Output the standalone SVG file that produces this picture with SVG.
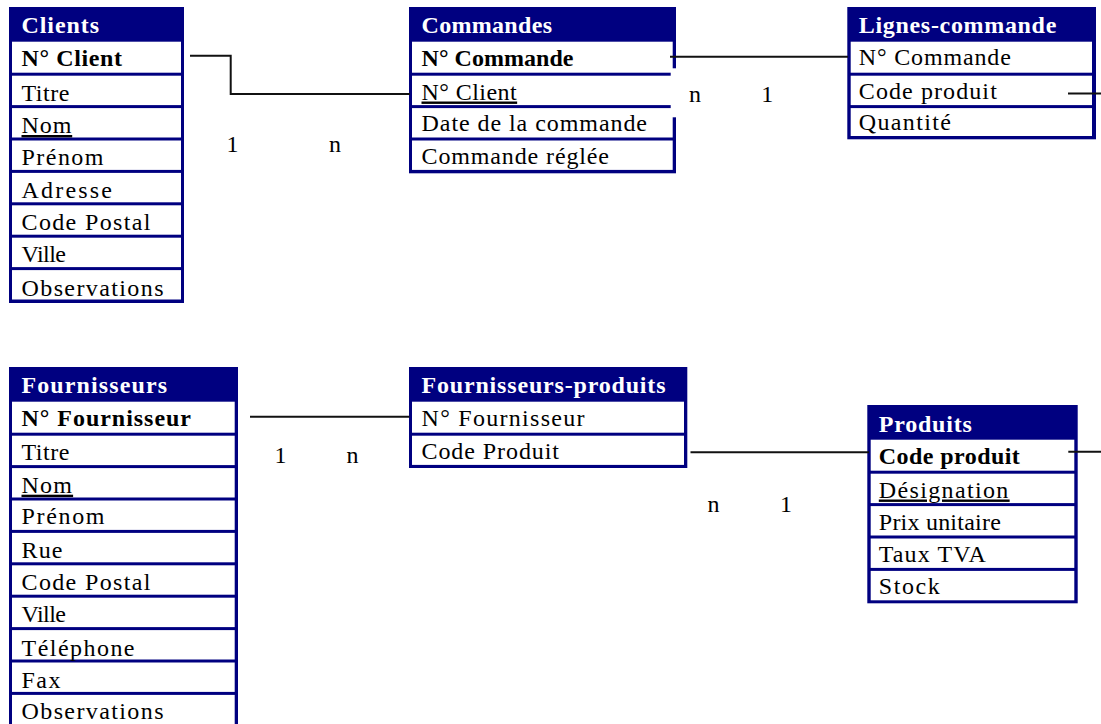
<svg xmlns="http://www.w3.org/2000/svg" width="1101" height="724" viewBox="0 0 1101 724">
<style>
.nav{fill:#000080}
.cell{fill:#ffffff}
.t{font-family:"Liberation Serif","Times New Roman",serif;font-size:24px;fill:#000000}
.h{font-weight:bold;fill:#ffffff}
.b{font-weight:bold}
.u{text-decoration:underline;text-decoration-thickness:2px}
.conn{fill:none;stroke:#111111;stroke-width:2}
</style>
<rect x="0" y="0" width="1101" height="724" fill="#ffffff"/>

<g id="clients">
<rect class="nav" x="9" y="7" width="175" height="296"/>
<rect class="cell" x="12" y="41.7" width="169" height="31"/>
<rect class="cell" x="12" y="75.7" width="169" height="29.4"/>
<rect class="cell" x="12" y="108.1" width="169" height="29.4"/>
<rect class="cell" x="12" y="140.5" width="169" height="29.4"/>
<rect class="cell" x="12" y="172.9" width="169" height="29.4"/>
<rect class="cell" x="12" y="205.3" width="169" height="29.4"/>
<rect class="cell" x="12" y="237.7" width="169" height="29.4"/>
<rect class="cell" x="12" y="270.1" width="169" height="29.4"/>
<text class="t h" x="21.5" y="33.3" textLength="77.5">Clients</text>
<text class="t b" x="21.5" y="65.7" textLength="100.5">N° Client</text>
<text class="t" x="21.5" y="100.5" textLength="48">Titre</text>
<text class="t u" x="21.5" y="133" letter-spacing="0.9">Nom</text>
<text class="t" x="21.5" y="164.5" textLength="82">Prénom</text>
<text class="t" x="21.5" y="197.5" textLength="90.5">Adresse</text>
<text class="t" x="21.5" y="230" textLength="129">Code Postal</text>
<text class="t" x="21.5" y="262" textLength="44.5">Ville</text>
<text class="t" x="21.5" y="295.5" textLength="142">Observations</text>
</g>

<g id="commandes">
<rect class="nav" x="409" y="7" width="267" height="166.3"/>
<rect class="cell" x="412" y="41.7" width="260.7" height="31"/>
<rect class="cell" x="412" y="75.7" width="260.7" height="29.4"/>
<rect class="cell" x="412" y="108.1" width="260.7" height="29.4"/>
<rect class="cell" x="412" y="140.5" width="260.7" height="29.4"/>
<rect class="cell" x="670.7" y="68.3" width="6.5" height="49"/>
<text class="t h" x="421.5" y="33.3" textLength="130.5">Commandes</text>
<text class="t b" x="421.5" y="65.5" textLength="152">N° Commande</text>
<text class="t u" x="421.5" y="99.5" letter-spacing="0.45">N° Client</text>
<text class="t" x="421.5" y="131" textLength="225.5">Date de la commande</text>
<text class="t" x="421.5" y="163.5" textLength="187.5">Commande réglée</text>
</g>

<g id="lignes-commande">
<rect class="nav" x="847.3" y="7" width="248.7" height="132.3"/>
<rect class="cell" x="850.7" y="41.7" width="241.3" height="31"/>
<rect class="cell" x="850.7" y="75.7" width="241.3" height="29.4"/>
<rect class="cell" x="850.7" y="108.1" width="241.3" height="27.9"/>
<text class="t h" x="858.8" y="33.3" textLength="197.5">Lignes-commande</text>
<text class="t" x="858.8" y="65.3" textLength="152">N° Commande</text>
<text class="t" x="858.8" y="99.3" textLength="138">Code produit</text>
<text class="t" x="858.8" y="130" textLength="92">Quantité</text>
</g>

<g id="fournisseurs">
<rect class="nav" x="9" y="367" width="229" height="370"/>
<rect class="cell" x="12" y="401.7" width="222.7" height="31"/>
<rect class="cell" x="12" y="435.7" width="222.7" height="29.4"/>
<rect class="cell" x="12" y="468.1" width="222.7" height="29.4"/>
<rect class="cell" x="12" y="500.5" width="222.7" height="29.4"/>
<rect class="cell" x="12" y="532.9" width="222.7" height="29.4"/>
<rect class="cell" x="12" y="565.3" width="222.7" height="29.4"/>
<rect class="cell" x="12" y="597.7" width="222.7" height="29.4"/>
<rect class="cell" x="12" y="630.1" width="222.7" height="29.4"/>
<rect class="cell" x="12" y="662.5" width="222.7" height="29.4"/>
<rect class="cell" x="12" y="694.9" width="222.7" height="40"/>
<text class="t h" x="21.5" y="393.3" textLength="145.5">Fournisseurs</text>
<text class="t b" x="21.5" y="426" textLength="169.5">N° Fournisseur</text>
<text class="t" x="21.5" y="460.3" textLength="48">Titre</text>
<text class="t u" x="21.5" y="492.7" letter-spacing="1.2">Nom</text>
<text class="t" x="21.5" y="524.3" textLength="83">Prénom</text>
<text class="t" x="21.5" y="557.5" textLength="41">Rue</text>
<text class="t" x="21.5" y="590" textLength="129">Code Postal</text>
<text class="t" x="21.5" y="621.8" textLength="44.5">Ville</text>
<text class="t" x="21.5" y="655.7" textLength="113">Téléphone</text>
<text class="t" x="21.5" y="688.3" textLength="39">Fax</text>
<text class="t" x="21.5" y="718.5" textLength="142">Observations</text>
</g>

<g id="fournisseurs-produits">
<rect class="nav" x="409" y="367" width="278.3" height="101"/>
<rect class="cell" x="412" y="401.7" width="272" height="31"/>
<rect class="cell" x="412" y="435.7" width="272" height="29.2"/>
<text class="t h" x="421.5" y="393.3" textLength="244">Fournisseurs-produits</text>
<text class="t" x="421.5" y="426" textLength="163">N° Fournisseur</text>
<text class="t" x="421.5" y="459.3" textLength="137.5">Code Produit</text>
</g>

<g id="produits">
<rect class="nav" x="867.3" y="405" width="210.4" height="198.3"/>
<rect class="cell" x="870.7" y="439.7" width="203.6" height="31"/>
<rect class="cell" x="870.7" y="473.7" width="203.6" height="29.4"/>
<rect class="cell" x="870.7" y="506.1" width="203.6" height="29.4"/>
<rect class="cell" x="870.7" y="538.5" width="203.6" height="29.4"/>
<rect class="cell" x="870.7" y="570.9" width="203.6" height="29.4"/>
<text class="t h" x="878.8" y="431.5" textLength="93">Produits</text>
<text class="t b" x="878.8" y="463.5" textLength="141">Code produit</text>
<text class="t u" x="878.8" y="497.5" letter-spacing="1.35">Désignation</text>
<text class="t" x="878.8" y="529.5" textLength="122">Prix unitaire</text>
<text class="t" x="878.8" y="561.7" textLength="107">Taux TVA</text>
<text class="t" x="878.8" y="594" textLength="61">Stock</text>
</g>

<g id="connectors">
<polyline class="conn" points="190,55.7 230.7,55.7 230.7,94 410,94"/>
<line class="conn" x1="670" y1="56.7" x2="848" y2="56.7"/>
<line class="conn" x1="1068" y1="93.5" x2="1101" y2="93.5"/>
<line class="conn" x1="250" y1="416.7" x2="409.5" y2="416.7"/>
<line class="conn" x1="690.5" y1="452.3" x2="869" y2="452.3"/>
<line class="conn" x1="1068.3" y1="451.7" x2="1101" y2="451.7"/>
<text class="t" x="226.5" y="151.7">1</text>
<text class="t" x="329" y="151.7">n</text>
<text class="t" x="689" y="101.7">n</text>
<text class="t" x="761.2" y="101.7">1</text>
<text class="t" x="274.5" y="463.3">1</text>
<text class="t" x="346.5" y="463.3">n</text>
<text class="t" x="707.5" y="511.7">n</text>
<text class="t" x="780" y="511.7">1</text>
</g>
</svg>
